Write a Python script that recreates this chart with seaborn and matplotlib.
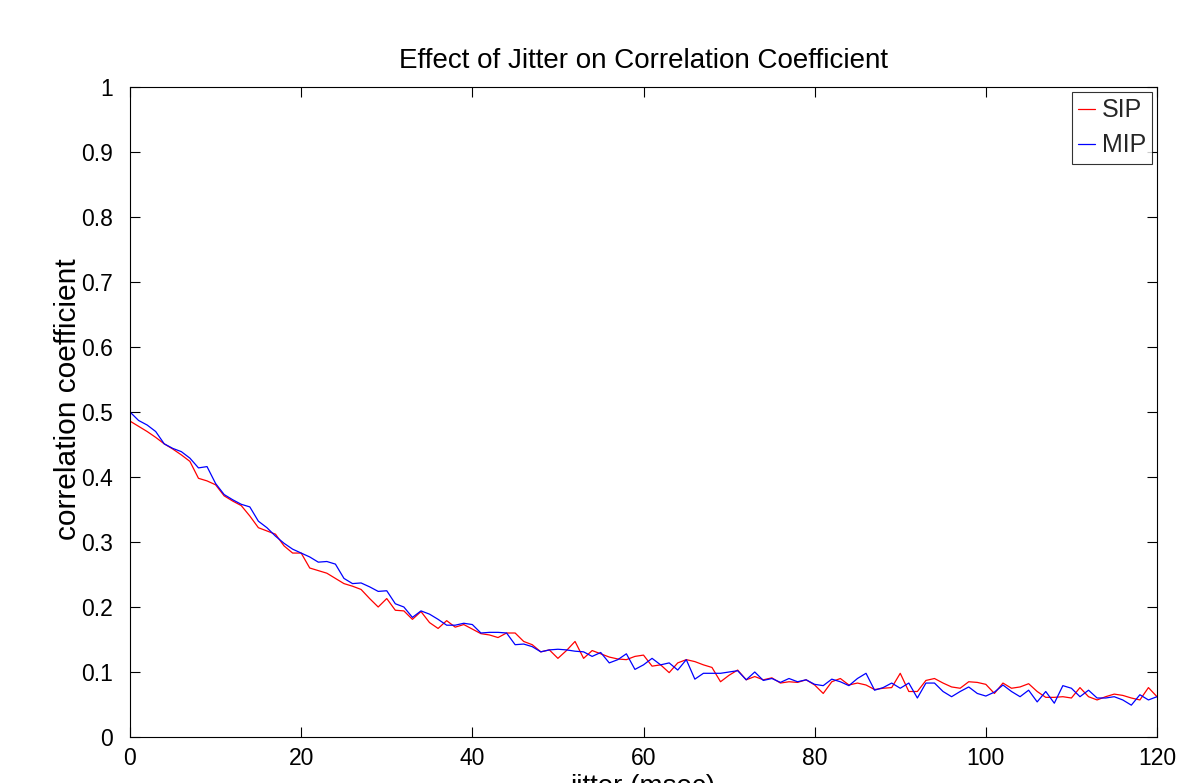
import numpy as np
import pandas as pd
import matplotlib
matplotlib.use("Agg")
import matplotlib.pyplot as plt
from matplotlib.lines import Line2D
import seaborn as sns

jitter = list(range(0, 121))

sip = [
    0.486, 0.478, 0.470, 0.461, 0.451, 0.443, 0.434, 0.424, 0.398, 0.394,
    0.388, 0.371, 0.363, 0.356, 0.340, 0.322, 0.317, 0.312, 0.294, 0.283,
    0.283, 0.260, 0.256, 0.252, 0.244, 0.236, 0.232, 0.227, 0.213, 0.200,
    0.213, 0.195, 0.194, 0.181, 0.193, 0.176, 0.167, 0.179, 0.169, 0.173,
    0.166, 0.159, 0.157, 0.153, 0.160, 0.160, 0.147, 0.142, 0.131, 0.134,
    0.121, 0.133, 0.147, 0.121, 0.133, 0.128, 0.123, 0.120, 0.119, 0.124,
    0.126, 0.109, 0.111, 0.099, 0.114, 0.119, 0.116, 0.111, 0.107, 0.085,
    0.095, 0.103, 0.088, 0.093, 0.088, 0.091, 0.083, 0.085, 0.084, 0.088,
    0.080, 0.067, 0.085, 0.090, 0.080, 0.083, 0.080, 0.073, 0.075, 0.076,
    0.098, 0.070, 0.070, 0.087, 0.090, 0.083, 0.077, 0.075, 0.085, 0.084,
    0.081, 0.067, 0.083, 0.075, 0.077, 0.082, 0.070, 0.061, 0.061, 0.062,
    0.060, 0.076, 0.062, 0.057, 0.062, 0.066, 0.064, 0.060, 0.057, 0.076,
    0.062,
]

mip = [
    0.500, 0.487, 0.480, 0.470, 0.451, 0.444, 0.439, 0.429, 0.414, 0.416,
    0.390, 0.373, 0.365, 0.358, 0.354, 0.332, 0.322, 0.309, 0.298, 0.289,
    0.283, 0.277, 0.269, 0.270, 0.266, 0.244, 0.236, 0.237, 0.231, 0.224,
    0.225, 0.205, 0.200, 0.184, 0.194, 0.189, 0.181, 0.172, 0.172, 0.175,
    0.173, 0.160, 0.161, 0.161, 0.160, 0.142, 0.143, 0.139, 0.131, 0.134,
    0.135, 0.134, 0.132, 0.131, 0.124, 0.130, 0.114, 0.119, 0.128, 0.104,
    0.111, 0.121, 0.111, 0.114, 0.103, 0.119, 0.089, 0.098, 0.098, 0.098,
    0.100, 0.102, 0.088, 0.100, 0.087, 0.090, 0.084, 0.090, 0.085, 0.088,
    0.081, 0.079, 0.089, 0.085, 0.079, 0.090, 0.098, 0.072, 0.076, 0.083,
    0.075, 0.083, 0.060, 0.083, 0.083, 0.070, 0.062, 0.070, 0.077, 0.067,
    0.063, 0.069, 0.080, 0.070, 0.062, 0.072, 0.054, 0.070, 0.052, 0.079,
    0.075, 0.062, 0.072, 0.060, 0.060, 0.062, 0.057, 0.049, 0.065, 0.057,
    0.062,
]

series_names = ["SIP", "MIP"]
series_colors = ["#ff0000", "#0000ff"]

x_ticks = [0, 20, 40, 60, 80, 100, 120]
y_ticks = [0, 0.1, 0.2, 0.3, 0.4, 0.5, 0.6, 0.7, 0.8, 0.9, 1]
y_tick_labels = ["0", "0.1", "0.2", "0.3", "0.4", "0.5", "0.6", "0.7", "0.8", "0.9", "1"]

df = pd.DataFrame({
    "jitter": jitter * 2,
    "value": sip + mip,
    "series": ["SIP"] * len(sip) + ["MIP"] * len(mip),
})

sns.set_theme(style="white")
plt.rcParams["font.family"] = ["Liberation Sans", "DejaVu Sans"]

W, H = 1189, 783
fig = plt.figure(figsize=(W / 100, H / 100), dpi=100)
ax = fig.add_axes([130 / W, 1 - 737 / H, (1157 - 130) / W, (737 - 87) / H])

sns.lineplot(data=df, x="jitter", y="value", hue="series",
             hue_order=series_names, palette=series_colors,
             linewidth=0.9, ax=ax, legend=False)

ax.set_xlim(0, 120)
ax.set_ylim(0, 1)
ax.set_xticks(x_ticks)
ax.set_xticklabels([str(t) for t in x_ticks])
ax.set_yticks(y_ticks)
ax.set_yticklabels(y_tick_labels)

for s in ax.spines.values():
    s.set_visible(True)
    s.set_color("black")
    s.set_linewidth(0.8)

ax.tick_params(axis="both", which="major", direction="in", length=7, width=0.8,
               color="black", labelcolor="black", labelsize=16.5,
               top=True, right=True, bottom=True, left=True)
ax.tick_params(axis="y", pad=12)
ax.tick_params(axis="x", pad=7)

ax.set_title("Effect of Jitter on Correlation Coefficient", fontsize=20, pad=14, color="black")
ax.set_ylabel("correlation coefficient", fontsize=21.5, color="black")
ax.yaxis.set_label_coords(-0.047, 0.52)
ax.set_xlabel("jitter (msec)", fontsize=20, color="black", labelpad=3)

handles = [Line2D([0], [0], color=c, lw=0.9) for c in series_colors]
leg = ax.legend(handles, series_names, loc="upper right", fontsize=18,
                frameon=True, fancybox=False, edgecolor="black",
                handlelength=0.7, handletextpad=0.25, borderpad=0.25,
                labelspacing=0.45, borderaxespad=0.2)
leg.get_frame().set_linewidth(0.8)

fig.savefig("out.png", dpi=100, facecolor="white")
